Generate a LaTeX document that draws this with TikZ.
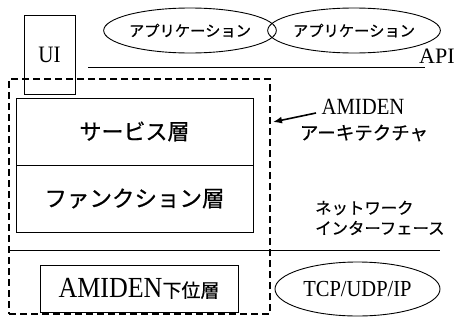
\documentclass[tikz,border=0pt]{standalone}
\usepackage{fontspec}
\setmainfont{Liberation Serif}
\newfontfamily\jp[FakeBold=0.6]{Noto Sans CJK JP}
\usetikzlibrary{arrows.meta,shapes.geometric}
\tikzset{
  box/.style={draw, line width=0.9pt, inner sep=0pt},
  oval/.style={draw, ellipse, line width=0.9pt, inner sep=0pt},
  dashbox/.style={draw, line width=1.8pt, dash pattern=on 7pt off 4pt, inner sep=0pt},
  thinline/.style={line width=0.9pt},
  arr/.style={line width=1.6pt, -{Latex[length=9pt,width=7pt]}},
  lbl/.style={inner sep=0pt},
}
\newcommand{\fs}[1]{\fontsize{#1}{#1}\selectfont}
\newcommand{\tall}[1]{\scalebox{1}[1.12]{#1}}
\begin{document}
\begin{tikzpicture}[x=1pt,y=-1pt]
\useasboundingbox (0,0) rectangle (457,324);
% UI box
\node[box, minimum width=51pt, minimum height=79pt, font=\fs{21}] (ui) at (49.5,54.5) {\tall{UI}};
% applications
\node[oval, minimum width=160pt, minimum height=45pt, font=\jp\fs{15.3}] (app1) at (190,30.5) {アプリケーション};
\node[oval, minimum width=162pt, minimum height=45pt, font=\jp\fs{15.3}] (app2) at (354,30.5) {アプリケーション};
% API line
\coordinate (apiL) at (88,67);
\coordinate (apiR) at (425,67);
\draw[thinline] (apiL) -- (apiR);
\node[lbl, anchor=base west, font=\fs{22}] (api) at (419,63) {API};
% dashed architecture box
\node[dashbox, minimum width=261pt, minimum height=235pt] (arch) at (139.5,196.5) {};
% service and function layers
\node[box, minimum width=237pt, minimum height=67pt, font=\jp\fs{22}] (svc) at (134.5,131.5) {サービス層};
\node[box, minimum width=237pt, minimum height=67pt, font=\jp\fs{22.5}] (func) at (134.5,198.5) {ファンクション層};
% label and arrow
\node[lbl, font=\fs{20.7}] (amiden) at (363,107) {\tall{AMIDEN}};
\node[lbl, font=\jp\fs{18.5}] (archlbl) at (364,133) {アーキテクチャ};
\coordinate (tail) at (316,113);
\coordinate (tip) at (273,122);
\draw[arr] (tail) -- (tip);
% network interface
\node[lbl, anchor=west, font=\jp\fs{16.4}] (net1) at (315,208) {ネットワーク};
\node[lbl, anchor=west, font=\jp\fs{16.4}] (net2) at (315,228) {インターフェース};
\coordinate (netL) at (9,250);
\coordinate (netR) at (440,250);
\draw[thinline] (netL) -- (netR);
% lower layer
\node[box, minimum width=198pt, minimum height=47pt] (low) at (139,288.5) {\fs{26}\tall{AMIDEN}\jp\fs{19}下位層};
% TCP/UDP/IP
\node[oval, minimum width=165pt, minimum height=54pt, font=\fs{20.5}] (tcp) at (357.5,289) {\tall{TCP/UDP/IP}};
\end{tikzpicture}
\end{document}
